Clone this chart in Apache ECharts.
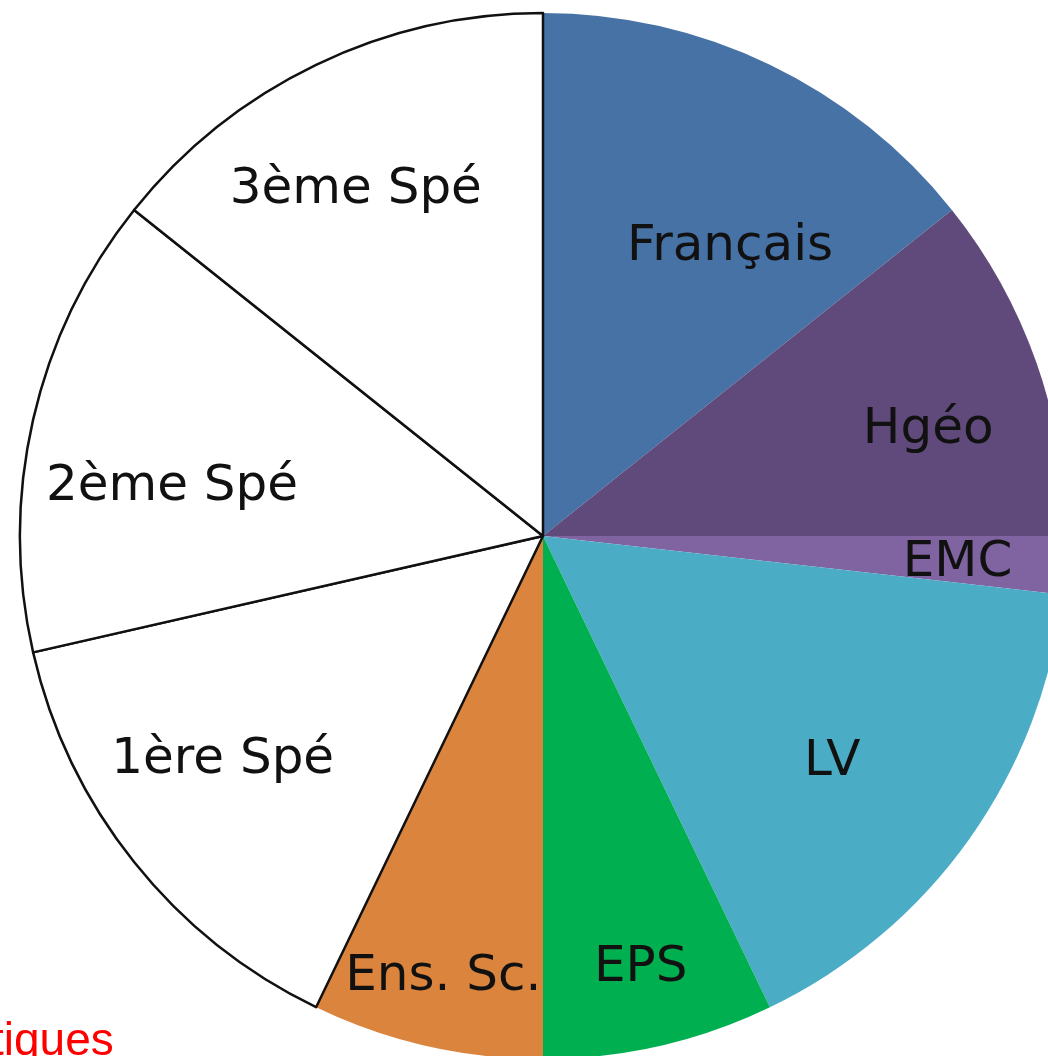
<!DOCTYPE html>
<html>
<head>
<meta charset="utf-8">
<script src="https://cdn.jsdelivr.net/npm/echarts@6/dist/echarts.min.js"></script>
<style>
  html, body { margin: 0; padding: 0; background: #fff; }
  #chart { width: 1048px; height: 1056px; }
</style>
</head>
<body>
<div id="chart"></div>
<script>
// hours per week, clockwise from 12 o'clock
const subjects = ['Français', 'Hgéo', 'EMC', 'LV', 'EPS', 'Ens. Sc.', '1ère Spé', '2ème Spé', '3ème Spé']
const hours = [4, 3, 0.5, 4.5, 2, 2, 4, 4, 4]
const colors = ['#4672a6', '#5f4a7b', '#8064a2', '#4bacc6', '#00b050', '#db843d', '#ffffff', '#ffffff', '#ffffff']

// label spot: angle clockwise from 12 o'clock (deg) and share of the radius
const labelAngle = [32.7, 74.3, 93.4, 127.8, 167.2, 192.8, 235.3, 277.8, 331.7]
const labelDist = [0.662, 0.765, 0.794, 0.70, 0.843, 0.86, 0.745, 0.716, 0.755]

const cx = 543, cy = 536, radius = 523

const chart = echarts.init(document.getElementById('chart'))

chart.setOption({
  animation: false,
  backgroundColor: '#fff',
  graphic: [
    {
      type: 'text',
      left: -9,
      top: 1019,
      silent: true,
      style: {
        text: 'tiques',
        fill: '#ff0000',
        font: '46px "Liberation Sans", Arial, sans-serif'
      }
    }
  ],
  series: [
    {
      type: 'pie',
      center: [cx, cy],
      radius: [0, radius],
      startAngle: 90,
      clockwise: true,
      avoidLabelOverlap: false,
      emphasis: { disabled: true },
      label: {
        show: true,
        position: 'inside',
        formatter: '{b}',
        color: '#111',
        fontSize: 50,
        fontFamily: '"DejaVu Sans", sans-serif'
      },
      labelLine: { show: false },
      labelLayout: function (params) {
        const i = params.dataIndex
        const a = labelAngle[i] * Math.PI / 180
        const d = labelDist[i] * radius
        return {
          x: cx + d * Math.sin(a),
          y: cy - d * Math.cos(a) + 2,
          align: 'center',
          verticalAlign: 'middle'
        }
      },
      data: subjects.map(function (name, i) {
        const white = colors[i] === '#ffffff'
        return {
          name: name,
          value: hours[i],
          itemStyle: {
            color: colors[i],
            borderColor: white ? '#111' : colors[i],
            borderWidth: white ? 2.5 : 0
          }
        }
      })
    }
  ]
})
</script>
</body>
</html>
